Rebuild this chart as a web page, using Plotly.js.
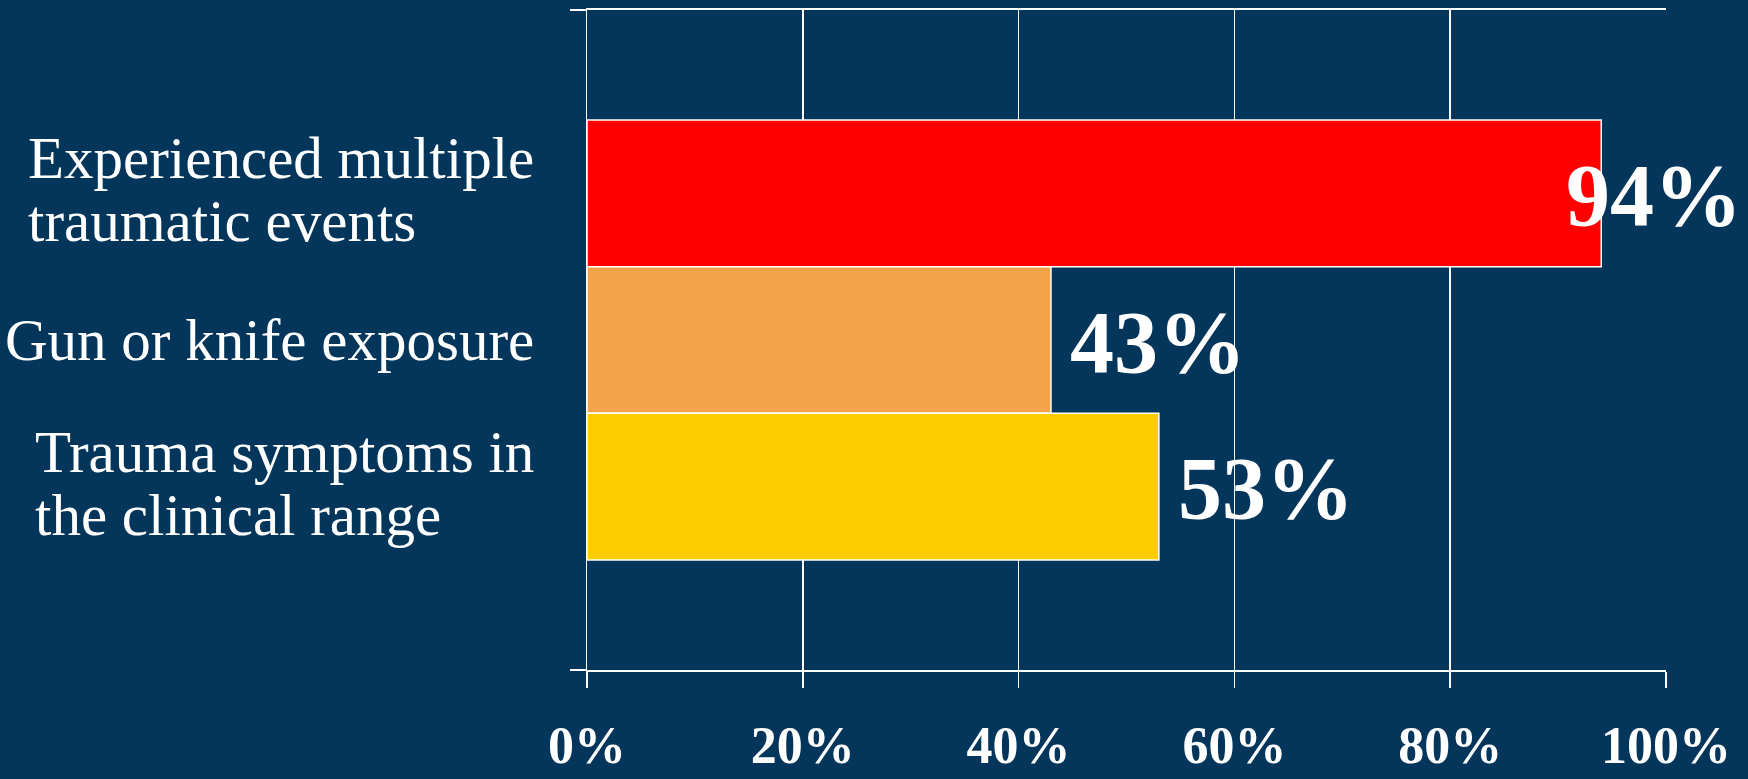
<!DOCTYPE html>
<html>
<head>
<meta charset="utf-8">
<script src="https://cdn.plot.ly/plotly-3.0.1.min.js"></script>
<style>
  html, body { margin: 0; padding: 0; background: #03365A; }
  #chart { width: 1748px; height: 779px; }
</style>
</head>
<body>
<div id="chart"></div>
<script>
// ---- Data ----
const categories = [
  "Experienced multiple<br>traumatic events",
  "Gun or knife exposure",
  "Trauma symptoms in<br>the clinical range"
];
const values = [94, 43, 53];           // percent
const barColors = ["#FF0000", "#F2A44A", "#FFCC00"];
const xTickVals = [0, 0.2, 0.4, 0.6, 0.8, 1.0];
const xTickText = ["0%", "20%", "40%", "60%", "80%", "100%"];

// ---- Layout constants ----
const W = 1748, H = 779;
const M = {l: 587, r: 82, t: 10, b: 109};
const plotW = W - M.l - M.r;
const yRange = [categories.length - 1 + 0.5 + 0.75, -0.5 - 0.75];
const labelFont = '"Liberation Serif", "Times New Roman", serif';
const catSize = 59, valSize = 88;

const ctx = document.createElement("canvas").getContext("2d");
function textW(txt, font) { ctx.font = font; return ctx.measureText(txt).width; }

const idx = categories.map((_, i) => i);
const annotations = [];

// category labels: right-anchored block, left-aligned lines
const blockRight = 532;
const lineGap = 63;
categories.forEach((c, i) => {
  const lines = c.split("<br>");
  const maxW = Math.max(...lines.map(l => textW(l, catSize + "px " + labelFont)));
  const left = blockRight - maxW;
  lines.forEach((ln, j) => {
    const d = 19 + (j - (lines.length - 1)) * lineGap + (lines.length > 1 ? 28 : 0);
    annotations.push({
      xref: "paper", yref: "y", x: 0, y: i,
      xanchor: "left", yanchor: "middle",
      xshift: left - M.l, yshift: 17 - d + 2,
      text: ln, showarrow: false,
      font: {family: labelFont, size: catSize, color: "#FFFFFF"}
    });
  });
});

// value labels
values.forEach((v, i) => {
  const txt = v + "%";
  const tw = textW(txt, "bold " + valSize + "px " + labelFont);
  const endPx = M.l + (v / 100) * plotW;
  const shift = Math.min(17, (W - 8) - endPx - tw);
  annotations.push({
    xref: "x", yref: "y", x: v / 100, y: i,
    xanchor: "left", yanchor: "middle",
    xshift: shift, yshift: -2,
    text: txt, showarrow: false,
    font: {family: labelFont, size: valSize, color: "#FFFFFF", weight: "bold"}
  });
});

const trace = {
  type: "bar",
  orientation: "h",
  x: values.map(v => v / 100),
  y: idx,
  width: 1,
  marker: {color: barColors, line: {color: "#FFFFFF", width: 1.5}},
  hoverinfo: "skip"
};

const layout = {
  width: W, height: H,
  margin: M,
  paper_bgcolor: "#03365A",
  plot_bgcolor: "#03365A",
  showlegend: false,
  bargap: 0,
  xaxis: {
    range: [0, 1],
    tickmode: "array", tickvals: xTickVals, ticktext: xTickText,
    showgrid: true, gridcolor: "#FFFFFF", gridwidth: 1.5,
    showline: true, linecolor: "#FFFFFF", linewidth: 2, mirror: true,
    ticks: "outside", ticklen: 16, tickwidth: 1.5, tickcolor: "#FFFFFF",
    ticklabelstandoff: 13,
    zeroline: false,
    tickfont: {family: labelFont, size: 52, color: "#FFFFFF", weight: "bold"}
  },
  yaxis: {
    range: yRange,
    tickmode: "array", tickvals: [yRange[1], yRange[0]],
    ticktext: ["", ""],
    showticklabels: false,
    ticks: "outside", ticklen: 16, tickwidth: 1.5, tickcolor: "#FFFFFF",
    showgrid: false, zeroline: false,
    showline: true, linecolor: "#FFFFFF", linewidth: 1.5
  },
  annotations: annotations
};

Plotly.newPlot("chart", [trace], layout, {displayModeBar: false, staticPlot: true});
</script>
</body>
</html>
